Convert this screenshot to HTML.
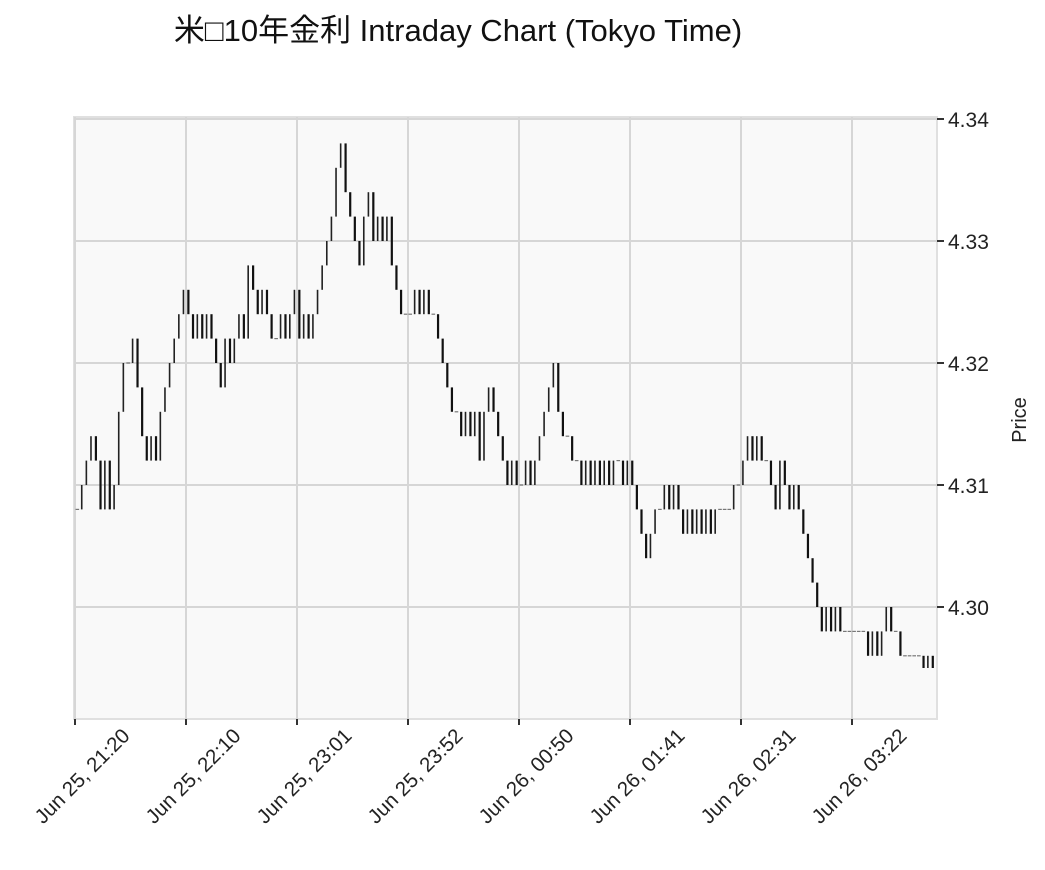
<!DOCTYPE html>
<html><head><meta charset="utf-8"><style>
body{margin:0;background:#fff;width:1045px;height:870px;overflow:hidden}
svg{display:block;font-family:"Liberation Sans","DejaVu Sans","Noto Sans CJK JP",sans-serif}
</style></head><body>
<svg id="chart" width="1045" height="870">
<text x="458" y="41" text-anchor="middle" font-size="31" fill="#111">米□10年金利 Intraday Chart (Tokyo Time)</text>
<rect x="74" y="117" width="863" height="602" fill="#f9f9f9" stroke="#e0e0e0" stroke-width="2"/>
<g id="grid"></g><g id="candles"></g><g id="axes"></g>
<text transform="translate(1026,420) rotate(-90)" text-anchor="middle" font-size="20" fill="#222">Price</text>
</svg>
<script>
const closes=[4.308,4.310,4.312,4.314,4.312,4.308,4.312,4.308,4.310,4.316,4.320,4.320,4.322,4.318,4.314,4.312,4.314,4.312,4.316,4.318,4.320,4.322,4.324,4.326,
4.324,4.322,4.324,4.322,4.324,4.322,4.320,4.318,4.322,4.320,4.322,4.324,4.322,4.328,4.326,4.324,4.326,4.324,4.322,4.322,4.324,4.322,4.324,4.326,4.322,4.324,4.322,
4.324,4.326,4.328,4.330,4.332,4.336,4.338,4.334,4.332,4.330,4.328,4.332,4.334,4.330,4.332,4.330,4.332,4.328,4.326,4.324,4.324,4.324,4.326,4.324,4.326,4.324,
4.324,4.322,4.320,4.318,4.316,4.316,4.314,4.316,4.314,4.316,4.312,4.316,4.318,4.316,4.314,4.312,4.310,4.312,4.310,4.310,4.312,4.310,4.312,4.314,4.316,4.318,
4.320,4.316,4.314,4.314,4.312,4.312,4.310,4.312,4.310,4.312,4.310,4.312,4.310,4.312,4.312,4.310,4.312,4.310,4.308,4.306,4.304,4.306,4.308,4.308,4.310,4.308,4.310,
4.308,4.306,4.308,4.306,4.308,4.306,4.308,4.306,4.308,4.308,4.308,4.308,4.310,4.310,4.312,4.314,4.312,4.314,4.312,4.312,4.310,4.308,4.312,4.310,4.308,4.310,4.308,
4.306,4.304,4.302,4.300,4.298,4.300,4.298,4.300,4.298,4.298,4.298,4.298,4.298,4.298,4.296,4.298,4.296,4.298,4.300,4.298,4.298,4.296,4.296,4.296,4.296,4.296,4.295,4.296,4.295];
const yTicks=[4.30,4.31,4.32,4.33,4.34];
const xTickLabels=["Jun 25, 21:20","Jun 25, 22:10","Jun 25, 23:01","Jun 25, 23:52","Jun 26, 00:50","Jun 26, 01:41","Jun 26, 02:31","Jun 26, 03:22"];
const firstOpen=4.308;
const NS="http://www.w3.org/2000/svg";
const X0=75,X1=935,N=closes.length,step=(X1-X0)/N;
const xTickStep=N*111/(X1-X0);
function xs(i){return X0+i*step;}
function ys(p){return 607-(p-4.30)*12200;}
function mk(tag,attrs,parent){const e=document.createElementNS(NS,tag);for(const k in attrs)e.setAttribute(k,attrs[k]);parent.appendChild(e);return e;}
const grid=document.getElementById('grid'),cg=document.getElementById('candles'),ax=document.getElementById('axes');
yTicks.forEach((t,i)=>{
  const y=ys(t);
  const l=mk('line',{x1:74,x2:937,y1:y,y2:y,stroke:'#d6d6d6','stroke-width':2},grid);
  
  
  mk('line',{x1:937,x2:944,y1:y,y2:y,stroke:'#333','stroke-width':2},ax);
  const tx=mk('text',{x:948,y:y+8,'font-size':21,fill:'#222'},ax);
  tx.textContent=t.toFixed(2);
  
  
});
xTickLabels.forEach((lab,k)=>{
  const x=xs(k*xTickStep);
  const l=mk('line',{x1:x,x2:x,y1:117,y2:719,stroke:'#d6d6d6','stroke-width':2},grid);
  
  
  mk('line',{x1:x,x2:x,y1:719,y2:725,stroke:'#333','stroke-width':2},ax);
  const tx=mk('text',{x:0,y:0,'font-size':20.5,fill:'#222','text-anchor':'end',transform:`translate(${x+56},${737}) rotate(-45)`},ax);
  tx.textContent=lab;
  
  
});
let prev=firstOpen;
closes.forEach((c,i)=>{
  const x=xs(i)+step/2;
  const o=prev;
  let el;
  if(Math.abs(c-o)<1e-9){
    el=mk('line',{x1:x-step/2+0.5,x2:x+step/2-0.5,y1:ys(c),y2:ys(c),stroke:'#777','stroke-width':1.2},cg);
  }else{
    const top=ys(Math.max(o,c)),bot=ys(Math.min(o,c));
    el=mk('rect',{x:x-1,y:top,width:c<o?2.2:1.6,height:bot-top,fill:c<o?'#111':'#222'},cg);
  }
  
  
  prev=c;
});
</script>
</body></html>
